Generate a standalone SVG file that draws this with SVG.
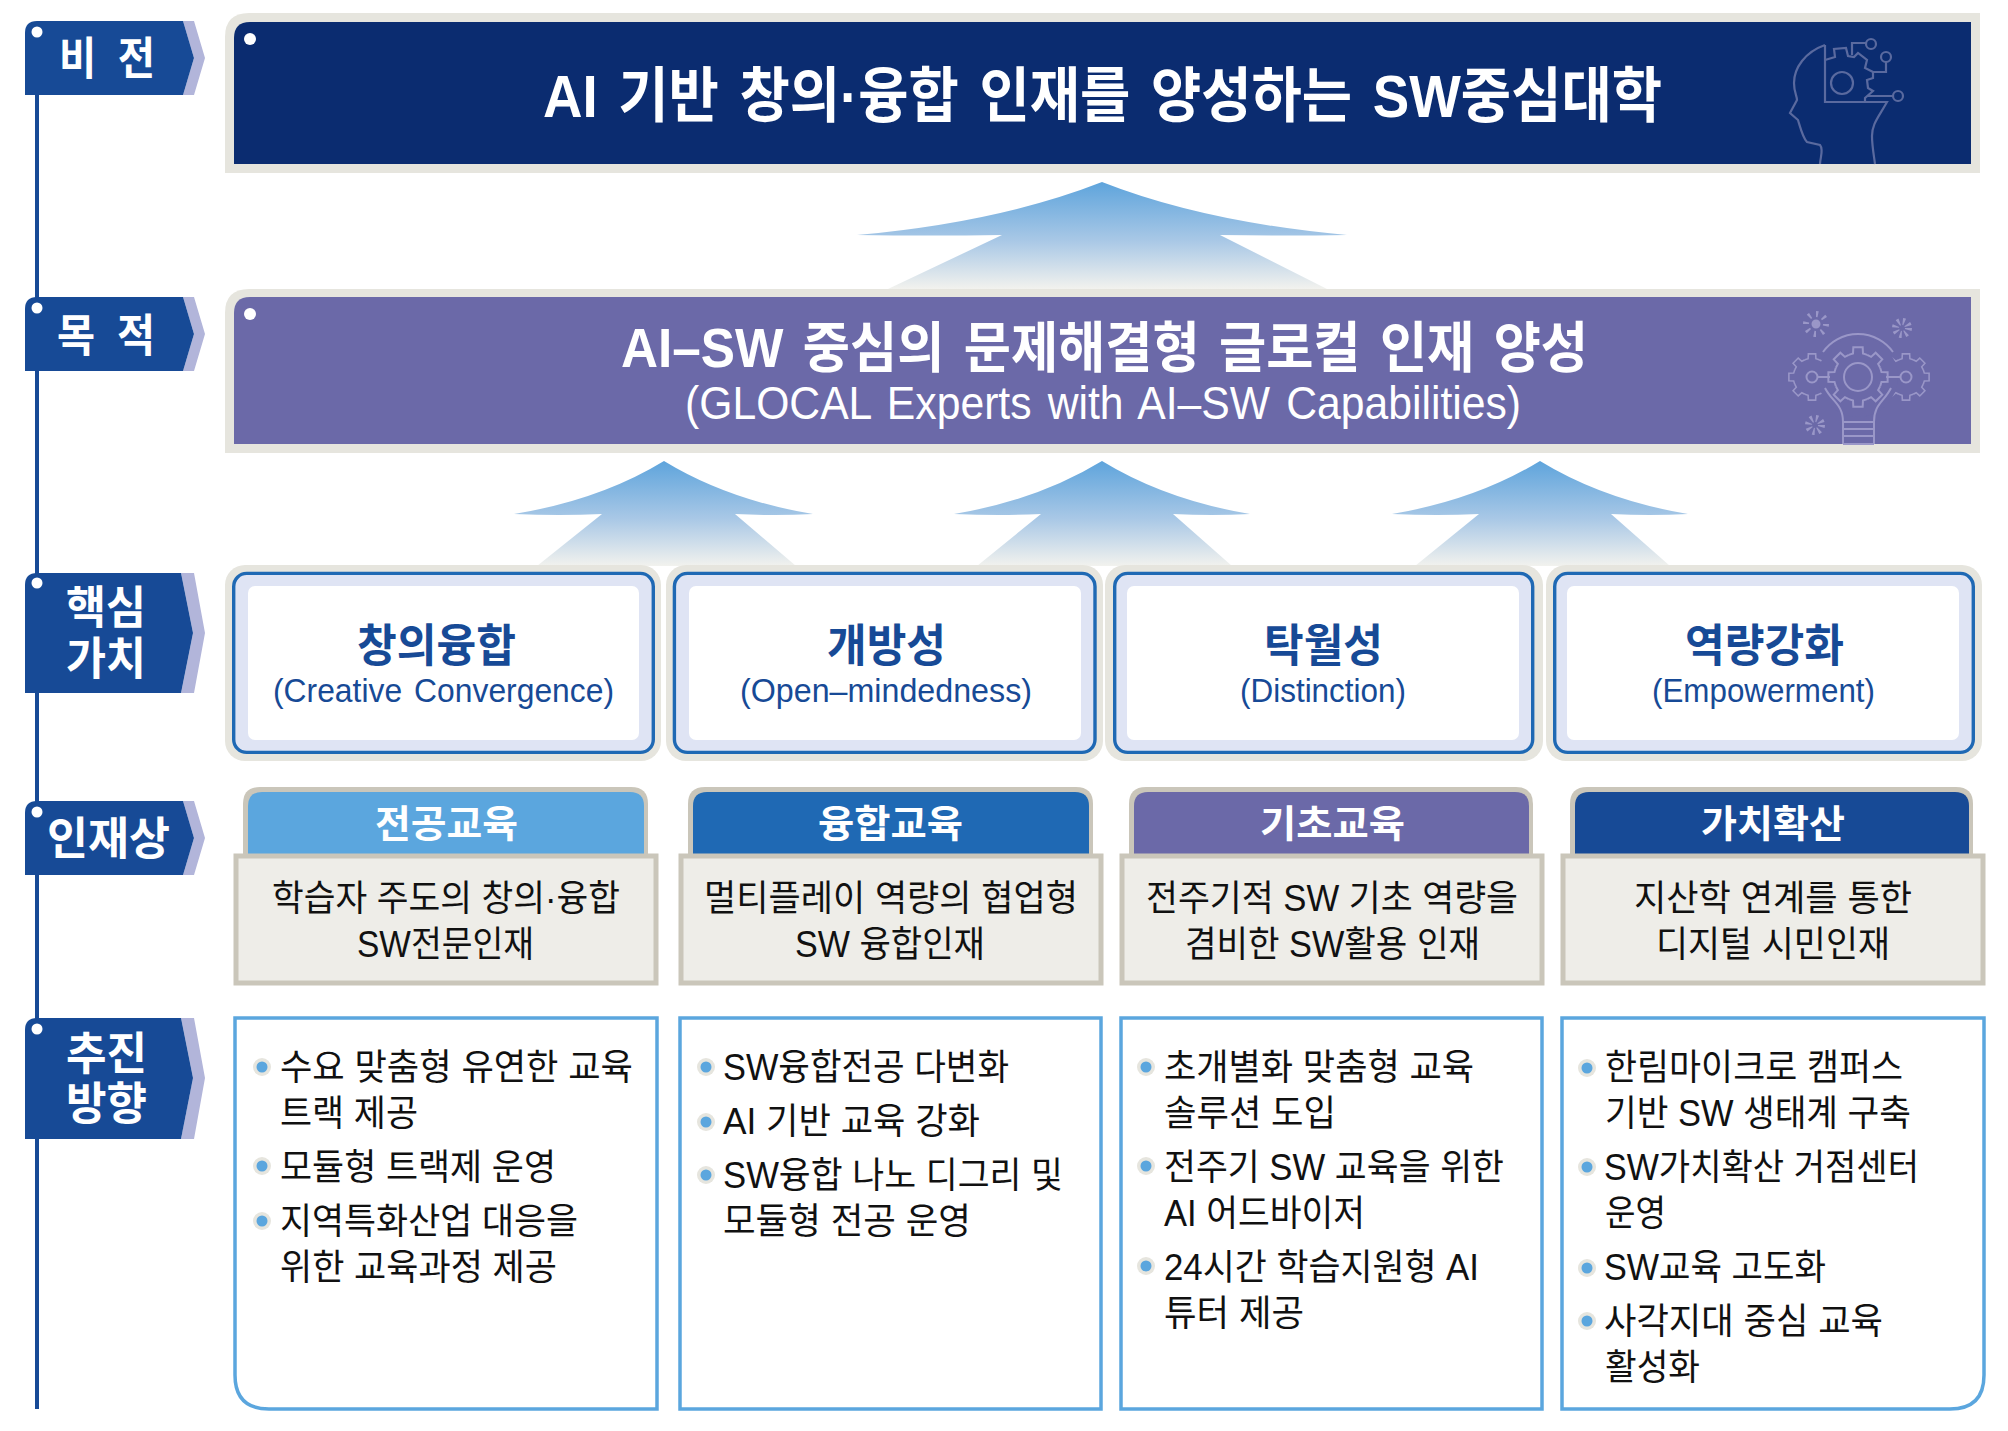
<svg xmlns="http://www.w3.org/2000/svg" xmlns:xlink="http://www.w3.org/1999/xlink" width="2008" height="1431" viewBox="0 0 2008 1431">
<style>
text{font-family:"Liberation Sans","Noto Sans CJK KR",sans-serif;word-spacing:.1em;}
.lbl{font-size:45px;font-weight:700;fill:#fff;}
.wide{word-spacing:.25em;}
.vt{font-size:45px;font-weight:700;fill:#174a96;}
.vs{font-size:33px;fill:#174a96;}
.tt{font-size:38px;font-weight:700;fill:#fff;}
.bt{font-size:36px;fill:#111;word-spacing:0;}
.li{font-size:36px;fill:#111;word-spacing:0;}
.tag{fill:#174a96;}
.band{fill:#b2b5da;}
.pin{fill:#fff;}
.vo{fill:#e6e5de;}
.vb{fill:#dfe4f4;stroke:#1f69b4;stroke-width:3.4;}
.vw{fill:#fff;}
.tabo{fill:#cac6ba;}
.body{fill:#eeede8;stroke:#cac6ba;stroke-width:5;}
.box{fill:#fff;stroke:#5ba6de;stroke-width:3.5;}
.bo{fill:#e6e5de;}
.bi{fill:#5ba6de;}
.ih{fill:none;stroke:#5a6a9f;stroke-width:2.2;}
.ib{fill:none;stroke:#9a97c8;stroke-width:2;}
</style>
<defs>
<linearGradient id="ag" x1="0" y1="0" x2="0" y2="1">
<stop offset="0" stop-color="#5ea4dc"/>
<stop offset=".55" stop-color="#a9c8e6"/>
<stop offset="1" stop-color="#f2f2ee"/>
</linearGradient>
<path id="tooth" d="M-9.18-22.17L-4.99-23.48-4.69-29.63 4.69-29.63 4.99-23.48 9.18-22.17"/>
<g id="gear">
<use xlink:href="#tooth"/>
<use xlink:href="#tooth" transform="rotate(45)"/>
<use xlink:href="#tooth" transform="rotate(90)"/>
<use xlink:href="#tooth" transform="rotate(135)"/>
<use xlink:href="#tooth" transform="rotate(180)"/>
<use xlink:href="#tooth" transform="rotate(225)"/>
<use xlink:href="#tooth" transform="rotate(270)"/>
<use xlink:href="#tooth" transform="rotate(315)"/>
</g>
</defs>

<g id="connectors">
<rect x="35" y="90" width="4" height="1319" fill="#174a96"/>
<path id="arrow-top" fill="url(#ag)" d="M1102 182Q1000 222 857 235Q930 236 1002 235L888 289H1327L1220 235Q1285 236 1347 235Q1204 222 1102 182Z"/>
<path fill="url(#ag)" d="M664 461Q600 500 514 514Q560 516 602 514L537 566H796L735 514Q775 516 813 514Q728 500 664 461Z"/>
<path fill="url(#ag)" d="M1102 461Q1038 500 954 514Q1000 516 1041 514L977 566H1232L1173 514Q1212 516 1250 514Q1166 500 1102 461Z"/>
<path fill="url(#ag)" d="M1540 461Q1476 500 1392 514Q1438 516 1479 514L1415 566H1670L1611 514Q1650 516 1688 514Q1604 500 1540 461Z"/>
</g>

<g id="label-vision">
<path class="band" d="M183 21H194L205 58 194 95H183L194 58Z"/>
<path class="tag" d="M25 95V33Q25 21 37 21H183L194 58 183 95Z"/>
<circle class="pin" cx="37" cy="32" r="5.5"/>
<text class="lbl wide" x="59" y="75" textLength="96" lengthAdjust="spacingAndGlyphs">비 전</text>
</g>
<g id="label-mission">
<path class="band" d="M183 297H194L205 334 194 371H183L194 334Z"/>
<path class="tag" d="M25 371V309Q25 297 37 297H183L194 334 183 371Z"/>
<circle class="pin" cx="37" cy="308" r="5.5"/>
<text class="lbl wide" x="57" y="352" textLength="98" lengthAdjust="spacingAndGlyphs">목 적</text>
</g>
<g id="label-values">
<path class="band" d="M181 573H194L205 633 194 693H181L193 633Z"/>
<path class="tag" d="M25 693V585Q25 573 37 573H181L193 633 181 693Z"/>
<circle class="pin" cx="37" cy="583" r="5.5"/>
<text class="lbl" x="66" y="624" textLength="80" lengthAdjust="spacingAndGlyphs">핵심</text>
<text class="lbl" x="66" y="675" textLength="80" lengthAdjust="spacingAndGlyphs">가치</text>
</g>
<g id="label-talent">
<path class="band" d="M183 801H194L205 838 194 875H183L194 838Z"/>
<path class="tag" d="M25 875V813Q25 801 37 801H183L194 838 183 875Z"/>
<circle class="pin" cx="37" cy="812" r="5.5"/>
<text class="lbl" x="47" y="855" textLength="123" lengthAdjust="spacingAndGlyphs">인재상</text>
</g>
<g id="label-direction">
<path class="band" d="M181 1018H194L205 1078 194 1139H181L193 1078Z"/>
<path class="tag" d="M25 1139V1030Q25 1018 37 1018H181L193 1078 181 1139Z"/>
<circle class="pin" cx="37" cy="1029" r="5.5"/>
<text class="lbl" x="66" y="1070" textLength="81" lengthAdjust="spacingAndGlyphs">추진</text>
<text class="lbl" x="66" y="1120" textLength="81" lengthAdjust="spacingAndGlyphs">방향</text>
</g>

<g id="vision">
<path class="vo" d="M225 173V37Q225 13 249 13H1980V173Z"/>
<path fill="#0b2c70" d="M234 164V38Q234 22 250 22H1971V164Z"/>
<circle class="pin" cx="250" cy="39" r="6"/>
<text x="543" y="117" font-size="60" font-weight="700" fill="#fff" textLength="1119" lengthAdjust="spacingAndGlyphs">AI 기반 창의·융합 인재를 양성하는 SW중심대학</text>
<g class="ih">
<path d="M1825 45C1805 52 1794 68 1794 83C1794 92 1797 96 1797 100L1790 113 1798 120C1801 130 1803 138 1807 142L1820 145C1824 150 1820 158 1820 164"/>
<path d="M1825 45V102H1887C1878 118 1872 124 1872 136C1872 146 1874 156 1875 164"/>
<path d="M1825 60L1835 57 1834 49 1846 48 1848 56 1854 57 1858 53 1867 60 1865 68 1873 72V78L1867 80 1868 88 1873 91 1865 98V102"/>
<circle cx="1842" cy="83" r="11"/>
<path d="M1852 55V43H1866M1886 62V72H1873M1893 96H1867"/>
<circle cx="1871" cy="44" r="5"/><circle cx="1886" cy="57" r="5"/><circle cx="1898" cy="96" r="5"/>
</g>
</g>

<g id="mission">
<path class="vo" d="M225 453V313Q225 289 249 289H1980V453Z"/>
<path fill="#6b69a8" d="M234 444V313Q234 297 250 297H1971V444Z"/>
<circle class="pin" cx="250" cy="314" r="6"/>
<text x="621" y="367" font-size="55" font-weight="700" fill="#fff" textLength="967" lengthAdjust="spacingAndGlyphs">AI–SW 중심의 문제해결형 글로컬 인재 양성</text>
<text x="685" y="419" font-size="46" fill="#fff" textLength="836" lengthAdjust="spacingAndGlyphs">(GLOCAL Experts with AI–SW Capabilities)</text>
<g class="ib">
<use xlink:href="#gear" transform="translate(1812 377) scale(.78)"/>
<use xlink:href="#gear" transform="translate(1906 377) scale(.78)"/>
<circle cx="1858" cy="377" r="40" fill="#6b69a8" stroke="none"/>
<path d="M1823 352A43 43 0 0 1 1893 352M1825 388C1832 402 1843 404 1843 422V444M1891 388C1884 402 1874 404 1874 422V444M1843 422H1874M1843 429H1874M1843 436H1874M1843 444H1874"/>
<use xlink:href="#gear" transform="translate(1858 377)"/>
<circle cx="1858" cy="377" r="14"/>
<circle cx="1812" cy="377" r="5.5"/><circle cx="1906" cy="377" r="5.5"/>
<path d="M1818 377H1830M1886 377H1900"/>
<circle cx="1816" cy="324" r="10" stroke-width="6" stroke-dasharray="2.2 5.6"/>
<circle cx="1816" cy="324" r="3.5" fill="#9a97c8"/>
<circle cx="1902" cy="328" r="6.5" stroke-width="7" stroke-dasharray="2 3.1"/>
<circle cx="1815" cy="425" r="6.5" stroke-width="7" stroke-dasharray="2 3.1"/>
</g>
</g>

<g id="value-1">
<rect class="vo" x="225" y="565" width="436" height="196" rx="20"/>
<rect class="vb" x="233.7" y="573.4" width="419.6" height="179" rx="13"/>
<rect class="vw" x="248" y="586" width="391" height="154" rx="7"/>
<text class="vt" x="357" y="662" textLength="159" lengthAdjust="spacingAndGlyphs">창의융합</text>
<text class="vs" x="273" y="702" textLength="341" lengthAdjust="spacingAndGlyphs">(Creative Convergence)</text>
</g>
<g id="value-2">
<rect class="vo" x="666" y="565" width="437" height="196" rx="20"/>
<rect class="vb" x="674.4" y="573.4" width="420.6" height="179" rx="13"/>
<rect class="vw" x="689" y="586" width="392" height="154" rx="7"/>
<text class="vt" x="827" y="662" textLength="119" lengthAdjust="spacingAndGlyphs">개방성</text>
<text class="vs" x="740" y="702" textLength="292" lengthAdjust="spacingAndGlyphs">(Open–mindedness)</text>
</g>
<g id="value-3">
<rect class="vo" x="1105" y="565" width="438" height="196" rx="20"/>
<rect class="vb" x="1114.7" y="573.4" width="418" height="179" rx="13"/>
<rect class="vw" x="1127" y="586" width="392" height="154" rx="7"/>
<text class="vt" x="1264" y="662" textLength="119" lengthAdjust="spacingAndGlyphs">탁월성</text>
<text class="vs" x="1240" y="702" textLength="166" lengthAdjust="spacingAndGlyphs">(Distinction)</text>
</g>
<g id="value-4">
<rect class="vo" x="1546" y="565" width="436" height="196" rx="20"/>
<rect class="vb" x="1554.7" y="573.4" width="418.6" height="179" rx="13"/>
<rect class="vw" x="1567" y="586" width="392" height="154" rx="7"/>
<text class="vt" x="1685" y="662" textLength="159" lengthAdjust="spacingAndGlyphs">역량강화</text>
<text class="vs" x="1652" y="702" textLength="223" lengthAdjust="spacingAndGlyphs">(Empowerment)</text>
</g>

<g id="talent-1">
<path class="tabo" d="M243 856V804Q243 787 260 787H631Q648 787 648 804V856Z"/>
<path fill="#5ba6de" d="M248 856V806Q248 792 262 792H630Q644 792 644 806V856Z"/>
<rect class="body" x="236" y="856" width="420" height="127"/>
<text class="tt" x="375" y="837" textLength="143" lengthAdjust="spacingAndGlyphs">전공교육</text>
<text class="bt" x="272" y="911" textLength="348" lengthAdjust="spacingAndGlyphs">학습자 주도의 창의·융합</text>
<text class="bt" x="357" y="957" textLength="177" lengthAdjust="spacingAndGlyphs">SW전문인재</text>
</g>
<g id="talent-2">
<path class="tabo" d="M688 856V804Q688 787 705 787H1076Q1093 787 1093 804V856Z"/>
<path fill="#1f69b4" d="M693 856V806Q693 792 707 792H1075Q1089 792 1089 806V856Z"/>
<rect class="body" x="681" y="856" width="420" height="127"/>
<text class="tt" x="818" y="837" textLength="145" lengthAdjust="spacingAndGlyphs">융합교육</text>
<text class="bt" x="704" y="911" textLength="374" lengthAdjust="spacingAndGlyphs">멀티플레이 역량의 협업형</text>
<text class="bt" x="795" y="957" textLength="190" lengthAdjust="spacingAndGlyphs">SW 융합인재</text>
</g>
<g id="talent-3">
<path class="tabo" d="M1129 856V804Q1129 787 1146 787H1516Q1533 787 1533 804V856Z"/>
<path fill="#6b69a8" d="M1134 856V806Q1134 792 1148 792H1515Q1529 792 1529 806V856Z"/>
<rect class="body" x="1122" y="856" width="420" height="127"/>
<text class="tt" x="1260" y="837" textLength="145" lengthAdjust="spacingAndGlyphs">기초교육</text>
<text class="bt" x="1146" y="911" textLength="372" lengthAdjust="spacingAndGlyphs">전주기적 SW 기초 역량을</text>
<text class="bt" x="1185" y="957" textLength="295" lengthAdjust="spacingAndGlyphs">겸비한 SW활용 인재</text>
</g>
<g id="talent-4">
<path class="tabo" d="M1570 856V804Q1570 787 1587 787H1956Q1973 787 1973 804V856Z"/>
<path fill="#174a96" d="M1575 856V806Q1575 792 1589 792H1955Q1969 792 1969 806V856Z"/>
<rect class="body" x="1563" y="856" width="420" height="127"/>
<text class="tt" x="1701" y="837" textLength="144" lengthAdjust="spacingAndGlyphs">가치확산</text>
<text class="bt" x="1634" y="911" textLength="278" lengthAdjust="spacingAndGlyphs">지산학 연계를 통한</text>
<text class="bt" x="1656" y="957" textLength="234" lengthAdjust="spacingAndGlyphs">디지털 시민인재</text>
</g>

<g id="direction-1">
<path class="box" d="M235 1018H657V1409H269Q235 1409 235 1375Z"/>
<circle class="bo" cx="262" cy="1067" r="9"/><circle class="bi" cx="262" cy="1067" r="5.5"/>
<circle class="bo" cx="262" cy="1166" r="9"/><circle class="bi" cx="262" cy="1166" r="5.5"/>
<circle class="bo" cx="262" cy="1221" r="9"/><circle class="bi" cx="262" cy="1221" r="5.5"/>
<text class="li" x="280" y="1080" textLength="353" lengthAdjust="spacingAndGlyphs">수요 맞춤형 유연한 교육</text>
<text class="li" x="280" y="1126" textLength="138" lengthAdjust="spacingAndGlyphs">트랙 제공</text>
<text class="li" x="280" y="1180" textLength="276" lengthAdjust="spacingAndGlyphs">모듈형 트랙제 운영</text>
<text class="li" x="280" y="1234" textLength="298" lengthAdjust="spacingAndGlyphs">지역특화산업 대응을</text>
<text class="li" x="280" y="1280" textLength="277" lengthAdjust="spacingAndGlyphs">위한 교육과정 제공</text>
</g>
<g id="direction-2">
<rect class="box" x="680" y="1018" width="421" height="391"/>
<circle class="bo" cx="706" cy="1067" r="9"/><circle class="bi" cx="706" cy="1067" r="5.5"/>
<circle class="bo" cx="706" cy="1122" r="9"/><circle class="bi" cx="706" cy="1122" r="5.5"/>
<circle class="bo" cx="706" cy="1175" r="9"/><circle class="bi" cx="706" cy="1175" r="5.5"/>
<text class="li" x="723" y="1080" textLength="286" lengthAdjust="spacingAndGlyphs">SW융합전공 다변화</text>
<text class="li" x="723" y="1134" textLength="257" lengthAdjust="spacingAndGlyphs">AI 기반 교육 강화</text>
<text class="li" x="723" y="1188" textLength="340" lengthAdjust="spacingAndGlyphs">SW융합 나노 디그리 및</text>
<text class="li" x="723" y="1234" textLength="248" lengthAdjust="spacingAndGlyphs">모듈형 전공 운영</text>
</g>
<g id="direction-3">
<rect class="box" x="1121" y="1018" width="421" height="391"/>
<circle class="bo" cx="1146" cy="1067" r="9"/><circle class="bi" cx="1146" cy="1067" r="5.5"/>
<circle class="bo" cx="1146" cy="1166" r="9"/><circle class="bi" cx="1146" cy="1166" r="5.5"/>
<circle class="bo" cx="1146" cy="1266" r="9"/><circle class="bi" cx="1146" cy="1266" r="5.5"/>
<text class="li" x="1164" y="1080" textLength="310" lengthAdjust="spacingAndGlyphs">초개별화 맞춤형 교육</text>
<text class="li" x="1164" y="1126" textLength="172" lengthAdjust="spacingAndGlyphs">솔루션 도입</text>
<text class="li" x="1164" y="1180" textLength="340" lengthAdjust="spacingAndGlyphs">전주기 SW 교육을 위한</text>
<text class="li" x="1164" y="1226" textLength="201" lengthAdjust="spacingAndGlyphs">AI 어드바이저</text>
<text class="li" x="1164" y="1280" textLength="315" lengthAdjust="spacingAndGlyphs">24시간 학습지원형 AI</text>
<text class="li" x="1164" y="1326" textLength="140" lengthAdjust="spacingAndGlyphs">튜터 제공</text>
</g>
<g id="direction-4">
<path class="box" d="M1562 1018H1984V1375Q1984 1409 1950 1409H1562Z"/>
<circle class="bo" cx="1587" cy="1068" r="9"/><circle class="bi" cx="1587" cy="1068" r="5.5"/>
<circle class="bo" cx="1587" cy="1167" r="9"/><circle class="bi" cx="1587" cy="1167" r="5.5"/>
<circle class="bo" cx="1587" cy="1268" r="9"/><circle class="bi" cx="1587" cy="1268" r="5.5"/>
<circle class="bo" cx="1587" cy="1321" r="9"/><circle class="bi" cx="1587" cy="1321" r="5.5"/>
<text class="li" x="1605" y="1080" textLength="298" lengthAdjust="spacingAndGlyphs">한림마이크로 캠퍼스</text>
<text class="li" x="1605" y="1126" textLength="306" lengthAdjust="spacingAndGlyphs">기반 SW 생태계 구축</text>
<text class="li" x="1604" y="1180" textLength="315" lengthAdjust="spacingAndGlyphs">SW가치확산 거점센터</text>
<text class="li" x="1605" y="1226" textLength="61" lengthAdjust="spacingAndGlyphs">운영</text>
<text class="li" x="1604" y="1280" textLength="222" lengthAdjust="spacingAndGlyphs">SW교육 고도화</text>
<text class="li" x="1604" y="1334" textLength="279" lengthAdjust="spacingAndGlyphs">사각지대 중심 교육</text>
<text class="li" x="1605" y="1380" textLength="95" lengthAdjust="spacingAndGlyphs">활성화</text>
</g>
</svg>
